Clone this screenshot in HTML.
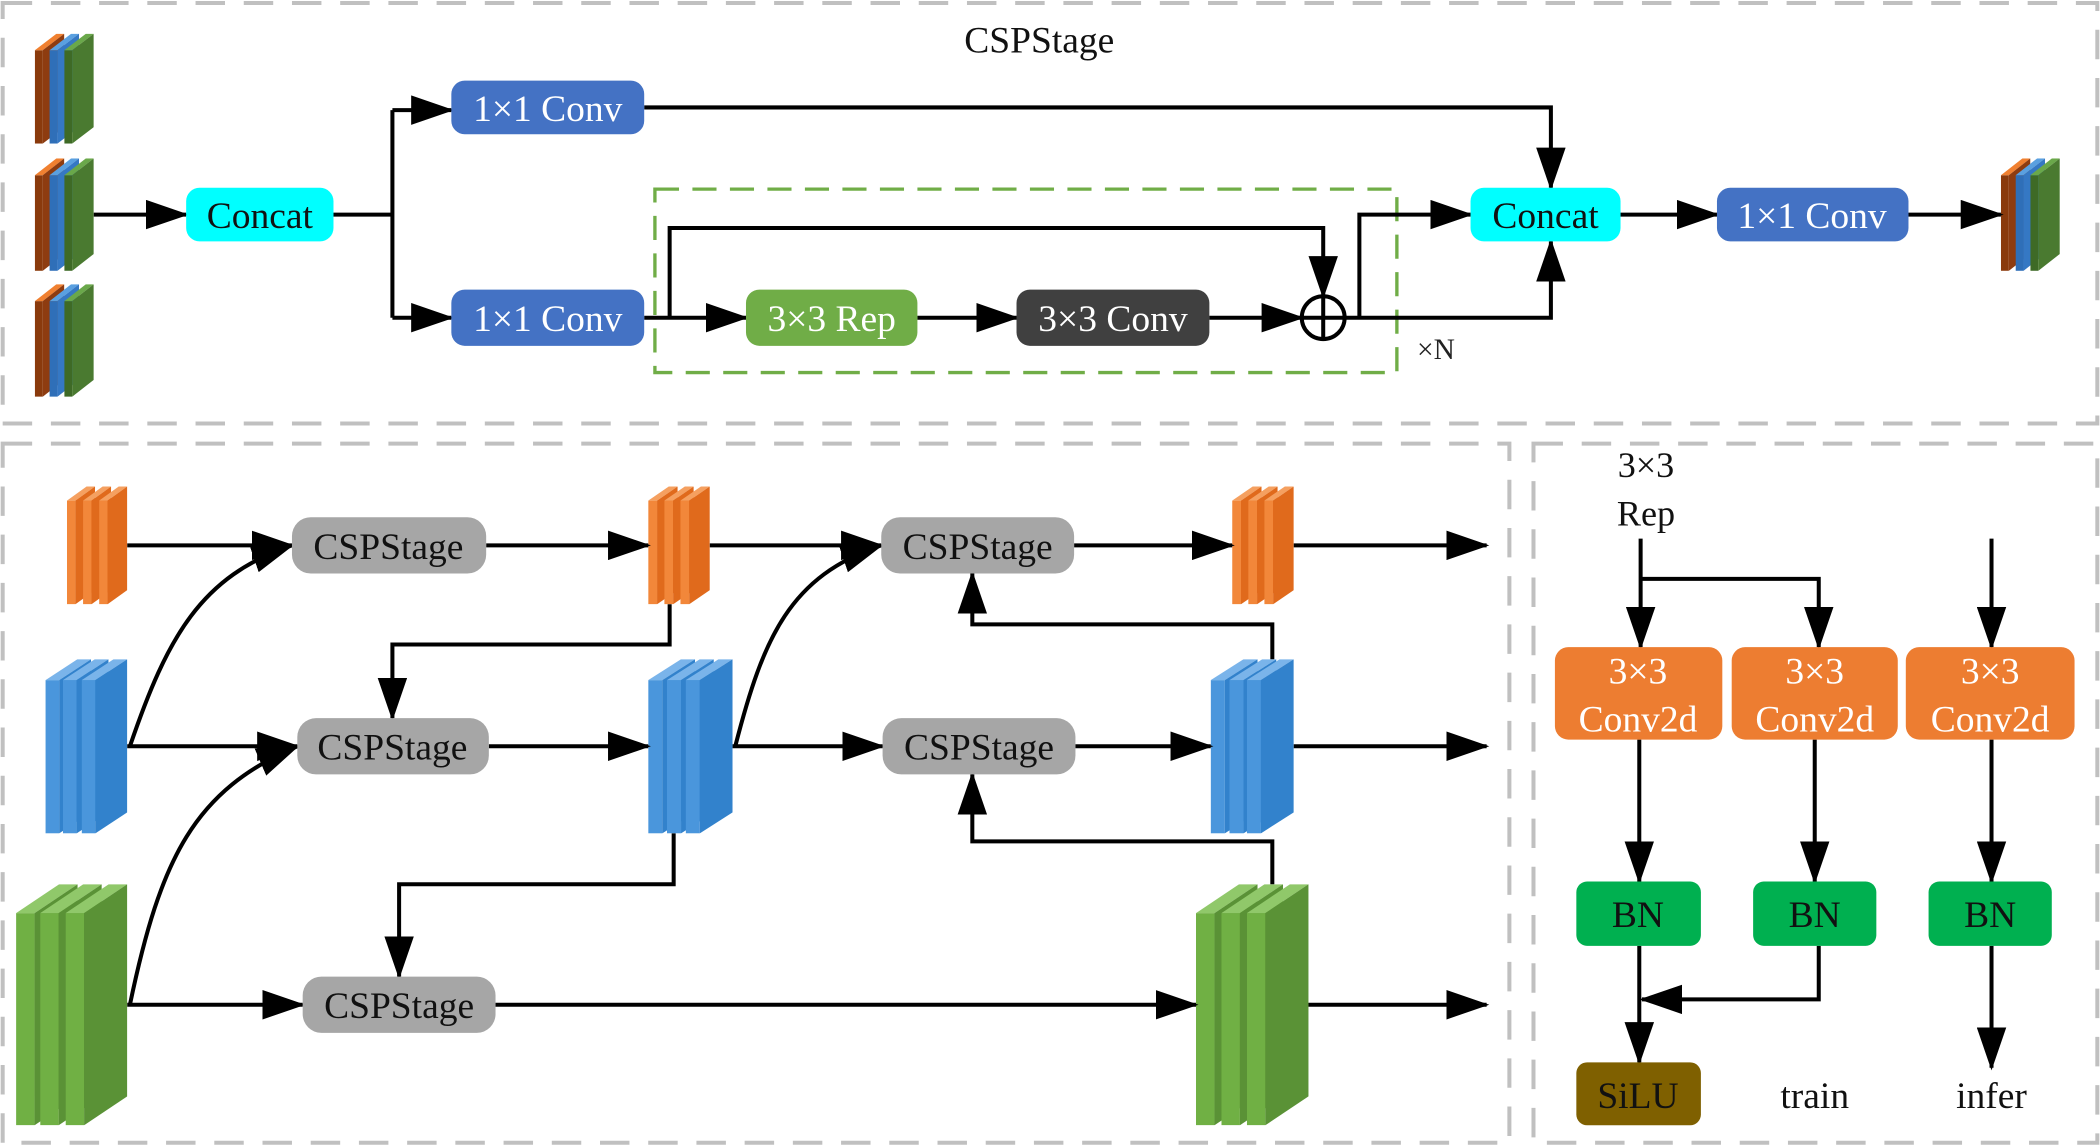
<!DOCTYPE html>
<html><head><meta charset="utf-8"><style>
html,body{margin:0;padding:0;background:#fff;}
svg{display:block;}
text{font-family:"Liberation Serif",serif;}
</style></head><body>
<svg width="2100" height="1147" viewBox="0 0 1568 856" xmlns="http://www.w3.org/2000/svg">
<defs>
<marker id="a" markerUnits="userSpaceOnUse" markerWidth="32" markerHeight="22" refX="30" refY="11" orient="auto"><path d="M0,0 L32,11 L0,22 z" fill="#000"/></marker>
<symbol id="so" viewBox="0 0 30 100" preserveAspectRatio="none"><polygon points="0,15 8,15 8,100 0,100" fill="#8a3a0c"/><polygon points="0,15 22,0 30,0 8,15" fill="#f08030"/><polygon points="8,15 30,0 30,85 8,100" fill="#8e3c10"/></symbol>
<symbol id="sb" viewBox="0 0 30 100" preserveAspectRatio="none"><polygon points="0,15 8,15 8,100 0,100" fill="#2f6fb8"/><polygon points="0,15 22,0 30,0 8,15" fill="#5aa0e0"/><polygon points="8,15 30,0 30,85 8,100" fill="#3578c4"/></symbol>
<symbol id="sg" viewBox="0 0 30 100" preserveAspectRatio="none"><polygon points="0,15 8,15 8,100 0,100" fill="#3e6a26"/><polygon points="0,15 22,0 30,0 8,15" fill="#6aa84a"/><polygon points="8,15 30,0 30,85 8,100" fill="#4a7a30"/></symbol>
<symbol id="bo" viewBox="0 0 30 100" preserveAspectRatio="none"><polygon points="0,12 9,12 9,100 0,100" fill="#f2873a"/><polygon points="0,12 21,0 30,0 9,12" fill="#f5a060"/><polygon points="9,12 30,0 30,88 9,100" fill="#e06a1c"/></symbol>
<symbol id="bb" viewBox="0 0 30 100" preserveAspectRatio="none"><polygon points="0,12 9,12 9,100 0,100" fill="#4a96dc"/><polygon points="0,12 21,0 30,0 9,12" fill="#7ab4ea"/><polygon points="9,12 30,0 30,88 9,100" fill="#3282cc"/></symbol>
<symbol id="bg" viewBox="0 0 30 100" preserveAspectRatio="none"><polygon points="0,12 9,12 9,100 0,100" fill="#70b044"/><polygon points="0,12 21,0 30,0 9,12" fill="#90c86a"/><polygon points="9,12 30,0 30,88 9,100" fill="#5a9236"/></symbol>
</defs>

<g fill="none" stroke="#c0c0c0" stroke-width="3" stroke-dasharray="22,14">
<rect x="2" y="2" width="1564" height="314"/>
<rect x="2" y="331" width="1125" height="522"/>
<rect x="1145" y="331" width="421" height="522"/>
</g>

<text x="776" y="39" font-size="28" text-anchor="middle" fill="#111">CSPStage</text>
<g>
<use href="#so" x="26" y="25" width="22" height="82"/><use href="#sb" x="37" y="25" width="22" height="82"/><use href="#sg" x="48" y="25" width="22" height="82"/>
<use href="#so" x="26" y="118" width="22" height="84"/><use href="#sb" x="37" y="118" width="22" height="84"/><use href="#sg" x="48" y="118" width="22" height="84"/>
<use href="#so" x="26" y="212" width="22" height="84"/><use href="#sb" x="37" y="212" width="22" height="84"/><use href="#sg" x="48" y="212" width="22" height="84"/>
<use href="#so" x="1494" y="118" width="22" height="84"/><use href="#sb" x="1505" y="118" width="22" height="84"/><use href="#sg" x="1516" y="118" width="22" height="84"/>
</g>
<rect x="489" y="141" width="554" height="137" fill="none" stroke="#70ad47" stroke-width="2.5" stroke-dasharray="18,10"/>
<g stroke="#000" stroke-width="3" fill="none">
<path d="M70,160 H139" marker-end="url(#a)"/>
<path d="M249,160 H293"/>
<path d="M293,82 V237"/>
<path d="M293,82 H337" marker-end="url(#a)"/>
<path d="M293,237 H337" marker-end="url(#a)"/>
<path d="M481,80 H1158 V140" marker-end="url(#a)"/>
<path d="M481,237 H557" marker-end="url(#a)"/>
<path d="M500,237 V170 H988 V221" marker-end="url(#a)"/>
<path d="M685,237 H759" marker-end="url(#a)"/>
<path d="M903,237 H972" marker-end="url(#a)"/>
<path d="M1004,237 H1158 V180" marker-end="url(#a)"/>
<path d="M1015,237 V160 H1098" marker-end="url(#a)"/>
<path d="M1210,160 H1282" marker-end="url(#a)"/>
<path d="M1425,160 H1494" marker-end="url(#a)"/>
<circle cx="988" cy="237" r="16"/>
<path d="M972,237 H1004 M988,221 V253"/>
</g>
<g font-size="28" text-anchor="middle">
<rect x="139" y="140" width="110" height="40" rx="10" fill="#00ffff"/><text x="194" y="170" fill="#111">Concat</text>
<rect x="337" y="60" width="144" height="40" rx="10" fill="#4472c4"/><text x="409" y="90" fill="#fff">1×1 Conv</text>
<rect x="337" y="216" width="144" height="42" rx="10" fill="#4472c4"/><text x="409" y="247" fill="#fff">1×1 Conv</text>
<rect x="557" y="216" width="128" height="42" rx="10" fill="#70ad47"/><text x="621" y="247" fill="#fff">3×3 Rep</text>
<rect x="759" y="216" width="144" height="42" rx="10" fill="#404040"/><text x="831" y="247" fill="#fff">3×3 Conv</text>
<rect x="1098" y="140" width="112" height="40" rx="10" fill="#00ffff"/><text x="1154" y="170" fill="#111">Concat</text>
<rect x="1282" y="140" width="143" height="40" rx="10" fill="#4472c4"/><text x="1353" y="170" fill="#fff">1×1 Conv</text>
</g>
<text x="1058" y="268" font-size="22" fill="#222">×N</text>

<g>
<use href="#bo" x="50" y="363" width="21" height="88"/><use href="#bo" x="62" y="363" width="21" height="88"/><use href="#bo" x="74" y="363" width="21" height="88"/>
<use href="#bb" x="34" y="492" width="34" height="130"/><use href="#bb" x="47" y="492" width="34" height="130"/><use href="#bb" x="61" y="492" width="34" height="130"/>
<use href="#bg" x="12" y="660" width="46" height="180"/><use href="#bg" x="30" y="660" width="46" height="180"/><use href="#bg" x="49" y="660" width="46" height="180"/>
<use href="#bo" x="484" y="363" width="22" height="88"/><use href="#bo" x="496" y="363" width="22" height="88"/><use href="#bo" x="508" y="363" width="22" height="88"/>
<use href="#bb" x="484" y="492" width="35" height="130"/><use href="#bb" x="498" y="492" width="35" height="130"/><use href="#bb" x="512" y="492" width="35" height="130"/>
<use href="#bo" x="920" y="363" width="22" height="88"/><use href="#bo" x="932" y="363" width="22" height="88"/><use href="#bo" x="944" y="363" width="22" height="88"/>
<use href="#bb" x="904" y="492" width="35" height="130"/><use href="#bb" x="918" y="492" width="35" height="130"/><use href="#bb" x="931" y="492" width="35" height="130"/>
<use href="#bg" x="893" y="660" width="46" height="180"/><use href="#bg" x="912" y="660" width="46" height="180"/><use href="#bg" x="931" y="660" width="46" height="180"/>
</g>
<g stroke="#000" stroke-width="3" fill="none">
<path d="M95,407 H218" marker-end="url(#a)"/>
<path d="M95,557 H222" marker-end="url(#a)"/>
<path d="M97,557 C125,475 150,430 218,407" marker-end="url(#a)"/>
<path d="M97,750 C120,640 145,590 222,557" marker-end="url(#a)"/>
<path d="M95,750 H226" marker-end="url(#a)"/>
<path d="M363,407 H484" marker-end="url(#a)"/>
<path d="M500,451 V481 H293 V536" marker-end="url(#a)"/>
<path d="M365,557 H484" marker-end="url(#a)"/>
<path d="M530,407 H658" marker-end="url(#a)"/>
<path d="M549,557 C570,475 590,430 658,407" marker-end="url(#a)"/>
<path d="M547,557 H659" marker-end="url(#a)"/>
<path d="M503,622 V660 H298 V729" marker-end="url(#a)"/>
<path d="M802,407 H920" marker-end="url(#a)"/>
<path d="M803,557 H904" marker-end="url(#a)"/>
<path d="M950,492 V466 H726 V428" marker-end="url(#a)"/>
<path d="M950,660 V628 H726 V578" marker-end="url(#a)"/>
<path d="M370,750 H893" marker-end="url(#a)"/>
<path d="M966,407 H1110" marker-end="url(#a)"/>
<path d="M966,557 H1110" marker-end="url(#a)"/>
<path d="M977,750 H1110" marker-end="url(#a)"/>
</g>
<g font-size="28" text-anchor="middle" fill="#111">
<rect x="218" y="386" width="145" height="42" rx="14" fill="#a6a6a6"/><text x="290" y="417">CSPStage</text>
<rect x="222" y="536" width="143" height="42" rx="14" fill="#a6a6a6"/><text x="293" y="567">CSPStage</text>
<rect x="226" y="729" width="144" height="42" rx="14" fill="#a6a6a6"/><text x="298" y="760">CSPStage</text>
<rect x="658" y="386" width="144" height="42" rx="14" fill="#a6a6a6"/><text x="730" y="417">CSPStage</text>
<rect x="659" y="536" width="144" height="42" rx="14" fill="#a6a6a6"/><text x="731" y="567">CSPStage</text>
</g>

<g font-size="27" text-anchor="middle" fill="#111">
<text x="1229" y="356">3×3</text><text x="1229" y="392">Rep</text>
</g>
<g stroke="#000" stroke-width="3" fill="none">
<path d="M1225,402 V483" marker-end="url(#a)"/>
<path d="M1225,432 H1358 V483" marker-end="url(#a)"/>
<path d="M1487,402 V483" marker-end="url(#a)"/>
<path d="M1224,552 V658" marker-end="url(#a)"/>
<path d="M1355,552 V658" marker-end="url(#a)"/>
<path d="M1487,552 V658" marker-end="url(#a)"/>
<path d="M1224,706 V793" marker-end="url(#a)"/>
<path d="M1358,706 V746 H1226" marker-end="url(#a)"/>
<path d="M1487,706 V797" marker-end="url(#a)"/>
</g>
<g font-size="28" text-anchor="middle">
<rect x="1161" y="483" width="125" height="69" rx="10" fill="#ed7d31"/><text x="1223" y="510" fill="#fff">3×3</text><text x="1223" y="546" fill="#fff">Conv2d</text>
<rect x="1293" y="483" width="124" height="69" rx="10" fill="#ed7d31"/><text x="1355" y="510" fill="#fff">3×3</text><text x="1355" y="546" fill="#fff">Conv2d</text>
<rect x="1423" y="483" width="126" height="69" rx="10" fill="#ed7d31"/><text x="1486" y="510" fill="#fff">3×3</text><text x="1486" y="546" fill="#fff">Conv2d</text>
<rect x="1177" y="658" width="93" height="48" rx="8" fill="#00b050"/><text x="1223" y="692" fill="#111">BN</text>
<rect x="1309" y="658" width="92" height="48" rx="8" fill="#00b050"/><text x="1355" y="692" fill="#111">BN</text>
<rect x="1440" y="658" width="92" height="48" rx="8" fill="#00b050"/><text x="1486" y="692" fill="#111">BN</text>
<rect x="1177" y="793" width="93" height="47" rx="8" fill="#7f6000"/><text x="1223" y="827" fill="#111">SiLU</text>
<text x="1355" y="827" fill="#111">train</text>
<text x="1487" y="827" fill="#111">infer</text>
</g>
</svg>
</body></html>
